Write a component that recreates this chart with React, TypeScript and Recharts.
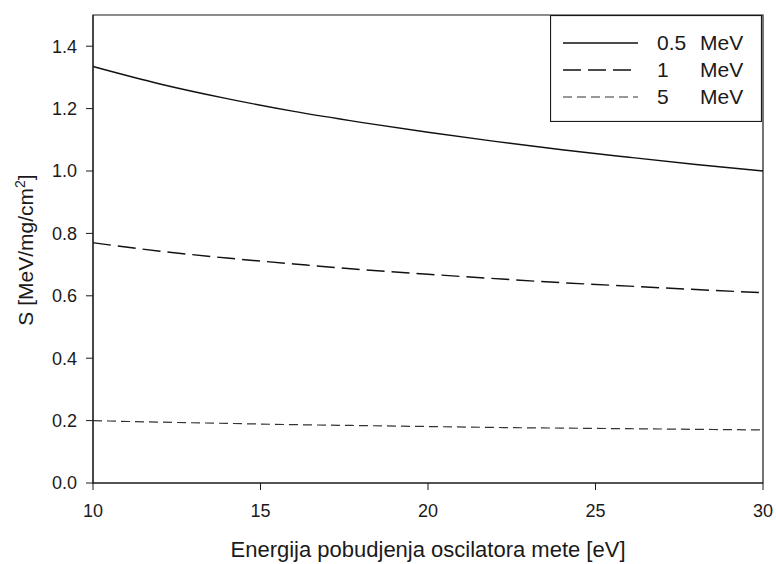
import React from 'react';
import { LineChart, Line, XAxis, YAxis, ReferenceArea } from 'recharts';

// excitation energy of target oscillator [eV]
const energies = [10, 12, 14, 16, 18, 20, 22, 24, 26, 28, 30];
// stopping power S [MeV/mg/cm2] for the three projectile energies
const s05MeV = [1.335, 1.279, 1.232, 1.191, 1.156, 1.124, 1.095, 1.068, 1.044, 1.021, 1.0];
const s1MeV = [0.77, 0.743, 0.721, 0.702, 0.684, 0.669, 0.655, 0.642, 0.631, 0.62, 0.61];
const s5MeV = [0.2, 0.195, 0.191, 0.187, 0.184, 0.181, 0.178, 0.176, 0.174, 0.172, 0.17];

const seriesLabels = ['0.5', '1', '5'];
const xTicks = [10, 15, 20, 25, 30];
const yTicks = [0, 0.2, 0.4, 0.6, 0.8, 1.0, 1.2, 1.4];

const data = energies.map((e, i) => ({ e, a: s05MeV[i], b: s1MeV[i], c: s5MeV[i] }));

const FONT = '"Liberation Sans", Arial, sans-serif';
const INK = '#1a1a1a';
const TICK_SIZE = 18;

const lineStyles = [
  { key: 'a', dash: undefined, color: '#111', width: 1.4 },
  { key: 'b', dash: '18 7', color: '#111', width: 1.4 },
  { key: 'c', dash: '9 5', color: '#333', width: 1.2 },
];

const XTick = (props: any) => (
  <text x={props.x} y={props.y} dy="0.72em" textAnchor="middle" fontSize={TICK_SIZE} fill={INK} fontFamily={FONT}>
    {props.payload.value}
  </text>
);

const YTick = (props: any) => (
  <text x={props.x} y={props.y} dy="0.36em" textAnchor="end" fontSize={TICK_SIZE} fill={INK} fontFamily={FONT}>
    {Number(props.payload.value).toFixed(1)}
  </text>
);

const LegendBox: React.FC = () => (
  <svg
    width={212}
    height={107}
    style={{ position: 'absolute', left: 550, top: 15, fontFamily: FONT }}
  >
    <rect x={0.5} y={0.5} width={211} height={106} fill="#fff" stroke={INK} strokeWidth={1.2} />
    {lineStyles.map((s, i) => {
      const y = 28 + i * 27;
      return (
        <g key={s.key}>
          <line x1={13} x2={88} y1={y} y2={y} stroke={s.color} strokeWidth={s.width} strokeDasharray={s.dash} />
          <text x={107} y={y + 7} fontSize={21} fill={INK}>{seriesLabels[i]}</text>
          <text x={150} y={y + 7} fontSize={21} fill={INK}>MeV</text>
        </g>
      );
    })}
  </svg>
);

const YTitle = () => (
  <text
    x={33}
    y={250}
    transform="rotate(-90 33 250)"
    textAnchor="middle"
    fontSize={21}
    fill={INK}
    fontFamily={FONT}
  >
    S [MeV/mg/cm<tspan dy={-8} fontSize={14}>2</tspan><tspan dy={8}>]</tspan>
  </text>
);

const XTitle = () => (
  <text x={428} y={557} textAnchor="middle" fontSize={22} fill={INK} fontFamily={FONT}>
    Energija pobudjenja oscilatora mete [eV]
  </text>
);

export default function App() {
  return (
    <div style={{ position: 'absolute', left: 0, top: 0, width: 776, height: 564, background: '#fff' }}>
      <LineChart
        width={776}
        height={564}
        data={data}
        margin={{ top: 15, right: 13, left: 33, bottom: 51 }}
        style={{ fontFamily: FONT }}
      >
        <ReferenceArea x1={10} x2={30} y1={0} y2={1.5} fill="none" stroke={INK} strokeWidth={1.2} ifOverflow="visible" />
        <XAxis
          type="number"
          dataKey="e"
          domain={[10, 30]}
          ticks={xTicks}
          height={30}
          tickSize={7}
          tickMargin={14}
          stroke={INK}
          tick={XTick}
          label={{ content: XTitle }}
        />
        <YAxis
          type="number"
          domain={[0, 1.5]}
          ticks={yTicks}
          width={60}
          tickSize={7}
          tickMargin={9}
          stroke={INK}
          tick={YTick}
          label={{ content: YTitle }}
        />
        {lineStyles.map((s) => (
          <Line
            key={s.key}
            type="monotone"
            dataKey={s.key}
            stroke={s.color}
            strokeWidth={s.width}
            strokeDasharray={s.dash}
            dot={false}
            activeDot={false}
            isAnimationActive={false}
          />
        ))}
      </LineChart>
      <LegendBox />
    </div>
  );
}
